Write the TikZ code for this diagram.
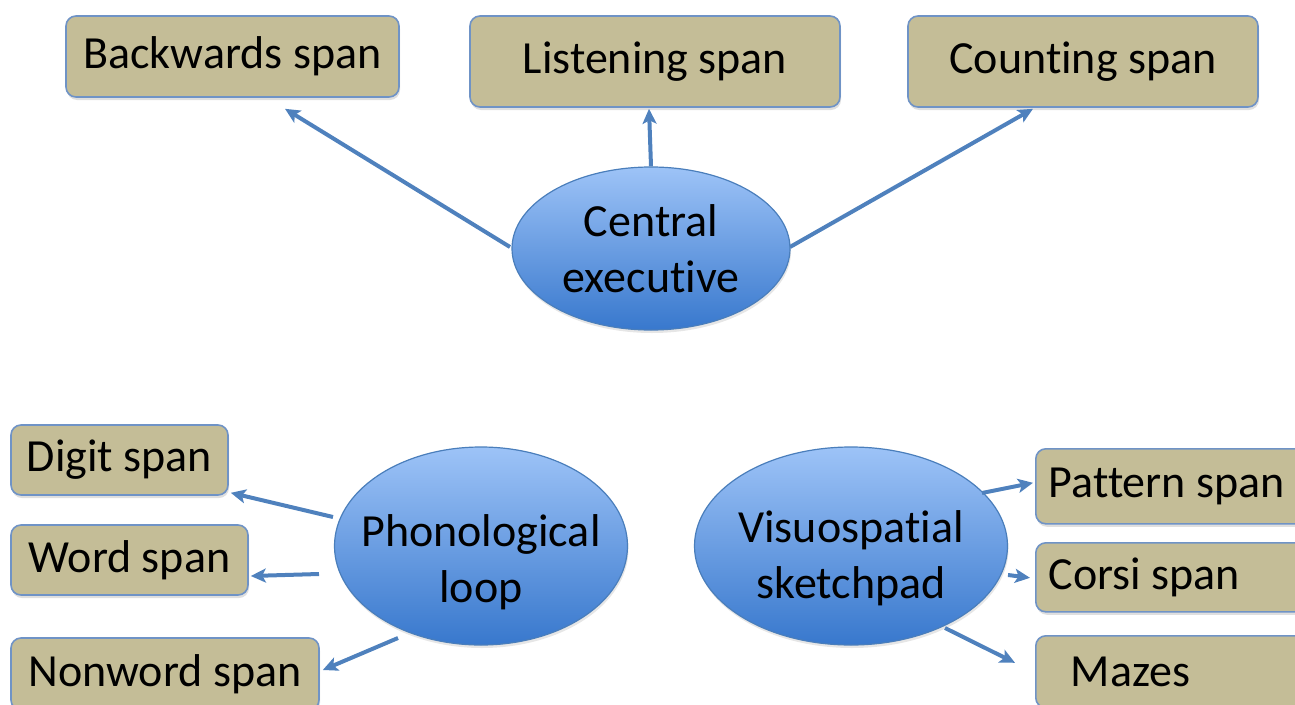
\documentclass[tikz,border=0pt]{standalone}
\usepackage{fontspec}
\setmainfont{Carlito}[Ligatures=NoCommon]
\usetikzlibrary{shapes.geometric,arrows.meta,shadows,calc}
\definecolor{tanfill}{HTML}{C4BD97}
\definecolor{boxline}{HTML}{6F93C6}
\definecolor{arrowblue}{HTML}{4F81BD}
\definecolor{ovaltop}{HTML}{9DC3F7}
\definecolor{ovalbot}{HTML}{3878CD}
\definecolor{ovalline}{HTML}{4A7EBB}
\newcommand\ctr[2]{\makebox[0pt]{\raisebox{-#1pt}[0pt][0pt]{\begin{tabular}{@{}c@{}}#2\end{tabular}}}}
\begin{document}
\begin{tikzpicture}[x=1pt,y=-1pt,
  lbl/.style={font=\fontsize{46}{56}\selectfont},
  box/.style={lbl, draw=boxline, line width=1.6pt, fill=tanfill, rounded corners=10pt,
    inner sep=0pt, drop shadow={shadow xshift=1pt, shadow yshift=-3pt, opacity=0.25}},
  rbox/.style={box, anchor=north west, inner xsep=13pt},
  oval/.style={ellipse, lbl, draw=ovalline, line width=1.2pt, top color=ovaltop,
    bottom color=ovalbot, inner sep=0pt,
    drop shadow={shadow xshift=1pt, shadow yshift=-3pt, opacity=0.2}},
  conn/.style={draw=arrowblue, line width=4pt,
    -{Stealth[length=15pt,width=14pt,inset=3.5pt]}}
]
\useasboundingbox (0,0) rectangle (1295,704);

% top row
\node[box, minimum width=333, minimum height=81] (bs) at (232.5,56.5) {Backwards span};
\node[box, minimum width=370, minimum height=91] (ls) at (655,61.5) {Listening span};
\node[box, minimum width=350, minimum height=91] (cs) at (1083,61.5) {Counting span};

% left column
\node[box, minimum width=217, minimum height=70] (ds) at (119.5,460) {Digit span};
\node[box, minimum width=237, minimum height=70] (ws) at (129.5,560) {Word span};
\node[box, minimum width=308, minimum height=72] (nw) at (165,674) {Nonword span};

% right column
\node[rbox, minimum height=75] (ps) at (1035,448) {\makebox[269pt][l]{Pattern span}};
\node[rbox, minimum height=69] (co) at (1035,542) {\makebox[269pt][l]{Corsi span}};
\node[rbox, minimum height=72] (mz) at (1035,635) {\makebox[269pt][l]{\hspace*{22pt}Mazes}};

% ellipses
\node[oval, minimum width=278, minimum height=163] (ce) at (651,248.5) {\ctr{11.5}{Central\\executive}};
\node[oval, minimum width=293, minimum height=198] (pl) at (481,546) {\ctr{23.5}{Phonological\\loop}};
\node[oval, minimum width=313, minimum height=198] (vs) at (851,546) {\ctr{19.5}{Visuospatial\\sketchpad}};

% connectors
\draw[conn] ($(ce.center)+(-141,-1.5)$) -- ($(bs.south)+(52.5,11)$);
\draw[conn] (ce.north) -- ($(ls.south)+(-6,1)$);
\draw[conn] ($(ce.center)+(139,-1.5)$) -- ($(cs.south)+(-50,1)$);

\draw[conn] ($(pl.center)+(-148,-29)$) -- ($(ds.south east)+(2,-3)$);
\draw[conn] ($(pl.center)+(-162,28)$) -- ($(ws.east)+(2,16)$);
\draw[conn] ($(pl.center)+(-83,92)$) -- ($(nw.east)+(3,-4)$);

\draw[conn] ($(vs.center)+(131,-53)$) -- ($(ps.west)+(-2,-3.5)$);
\draw[conn] ($(vs.center)+(157,29)$) -- ($(co.west)+(-5,0.5)$);
\draw[conn] ($(vs.center)+(94,82)$) -- ($(mz.west)+(-20,-9)$);
\end{tikzpicture}
\end{document}
